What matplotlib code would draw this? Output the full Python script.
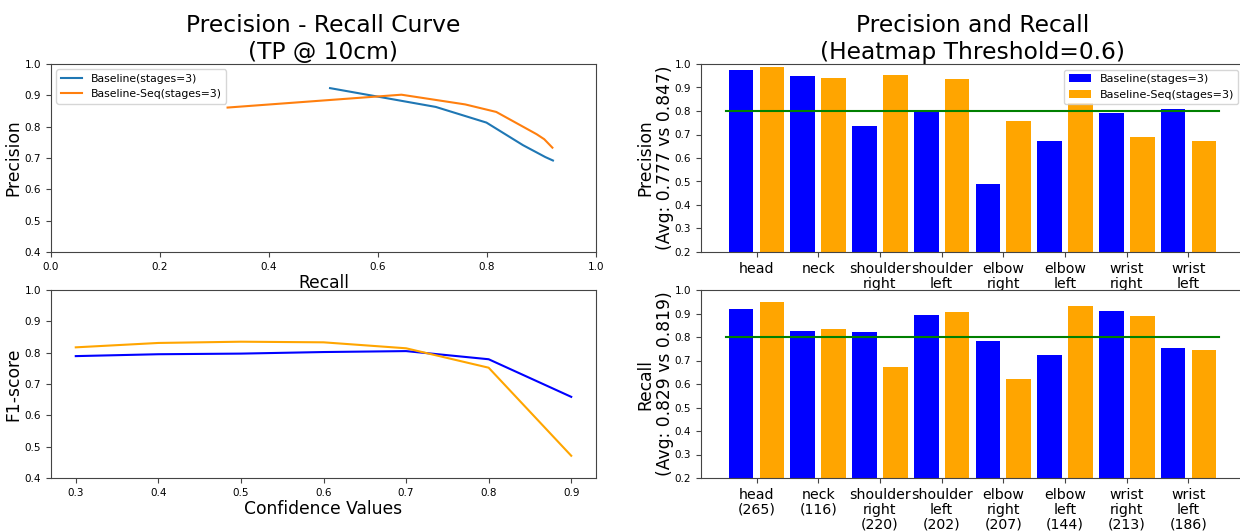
import matplotlib
matplotlib.use("Agg")
import matplotlib.pyplot as plt
import numpy as np

# Precision-recall curve points (confidence thresholds 0.9 -> 0.3)
pr_recall_base = [0.512, 0.706, 0.799, 0.866, 0.893, 0.907, 0.921]
pr_prec_base = [0.923, 0.863, 0.813, 0.741, 0.716, 0.703, 0.692]
pr_recall_seq = [0.324, 0.643, 0.760, 0.817, 0.891, 0.905, 0.920]
pr_prec_seq = [0.861, 0.902, 0.871, 0.847, 0.776, 0.760, 0.733]

# F1 score vs confidence threshold
confidence = [0.3, 0.4, 0.5, 0.6, 0.7, 0.8, 0.9]
f1_base = [0.789, 0.795, 0.797, 0.802, 0.805, 0.779, 0.659]
f1_seq = [0.817, 0.831, 0.835, 0.833, 0.814, 0.752, 0.471]

# Per-joint precision / recall
joints = ["head", "neck", "shoulder\nright", "shoulder\nleft",
          "elbow\nright", "elbow\nleft", "wrist\nright", "wrist\nleft"]
joint_counts = [265, 116, 220, 202, 207, 144, 213, 186]
prec_base = [0.973, 0.950, 0.736, 0.797, 0.490, 0.671, 0.793, 0.808]
prec_seq = [0.989, 0.942, 0.955, 0.938, 0.756, 0.835, 0.690, 0.674]
rec_base = [0.920, 0.826, 0.823, 0.892, 0.784, 0.723, 0.910, 0.752]
rec_seq = [0.948, 0.833, 0.674, 0.908, 0.623, 0.930, 0.890, 0.746]

label_base = "Baseline(stages=3)"
label_seq = "Baseline-Seq(stages=3)"
target = 0.8

W, H = 1240, 532
fig = plt.figure(figsize=(W / 100, H / 100), dpi=100)


def box(x0, x1, ytop, ybot):
    return [x0 / W, 1 - ybot / H, (x1 - x0) / W, (ybot - ytop) / H]


ax_pr = fig.add_axes(box(51, 596, 64, 252))
ax_f1 = fig.add_axes(box(51, 596, 290, 478))
ax_p = fig.add_axes(box(701, 1244, 64, 252))
ax_r = fig.add_axes(box(701, 1244, 290, 478))

spine_col = "#444444"
for ax in (ax_pr, ax_f1, ax_p, ax_r):
    for s in ax.spines.values():
        s.set_color(spine_col)
    ax.tick_params(colors=spine_col, labelcolor="black", labelsize=7.5)

title_fs = 16.8
label_fs = 12.3

# Precision-recall curve
ax_pr.plot(pr_recall_base, pr_prec_base, color="C0", label=label_base)
ax_pr.plot(pr_recall_seq, pr_prec_seq, color="C1", label=label_seq)
ax_pr.set_xlim(0, 1)
ax_pr.set_ylim(0.4, 1.0)
ax_pr.set_xlabel("Recall", fontsize=label_fs, labelpad=2)
ax_pr.set_ylabel("Precision", fontsize=label_fs, labelpad=1.5)
ax_pr.set_title("Precision - Recall Curve\n(TP @ 10cm)", fontsize=title_fs,
                pad=3.5, linespacing=1.2)
ax_pr.legend(loc="upper left", fontsize=7.8)

# F1 vs confidence
ax_f1.plot(confidence, f1_base, color="blue")
ax_f1.plot(confidence, f1_seq, color="orange")
ax_f1.set_ylim(0.4, 1.0)
ax_f1.set_xticks(confidence)
ax_f1.set_xlabel("Confidence Values", fontsize=label_fs, labelpad=2)
ax_f1.set_ylabel("F1-score", fontsize=label_fs, labelpad=1.5)

x = np.arange(len(joints))
bw = 0.4
off = 0.25


def bar_panel(ax, vb, vs, ylab, labels, legend=False):
    ax.bar(x - off, vb, bw, color="blue", label=label_base)
    ax.bar(x + off, vs, bw, color="orange", label=label_seq)
    ax.plot([x[0] - 0.5, x[-1] + 0.5], [target, target], color="green", lw=1.5)
    ax.set_ylim(0.2, 1.0)
    ax.set_xticks(x)
    ax.set_xticklabels(labels, fontsize=10.2, linespacing=1.1)
    avg_b = np.mean(vb)
    avg_s = np.mean(vs)
    ax.set_ylabel(f"{ylab}\n(Avg: {avg_b:.3f} vs {avg_s:.3f})",
                  fontsize=label_fs, linespacing=1.12, labelpad=0.5)
    if legend:
        ax.legend(loc="upper right", fontsize=8)


bar_panel(ax_p, prec_base, prec_seq, "Precision", joints, legend=True)
ax_p.set_title("Precision and Recall\n(Heatmap Threshold=0.6)",
               fontsize=title_fs, pad=3.5, linespacing=1.2)
bar_panel(ax_r, rec_base, rec_seq, "Recall",
          [f"{j}\n({c})" for j, c in zip(joints, joint_counts)])

fig.savefig("out.png", dpi=100)
